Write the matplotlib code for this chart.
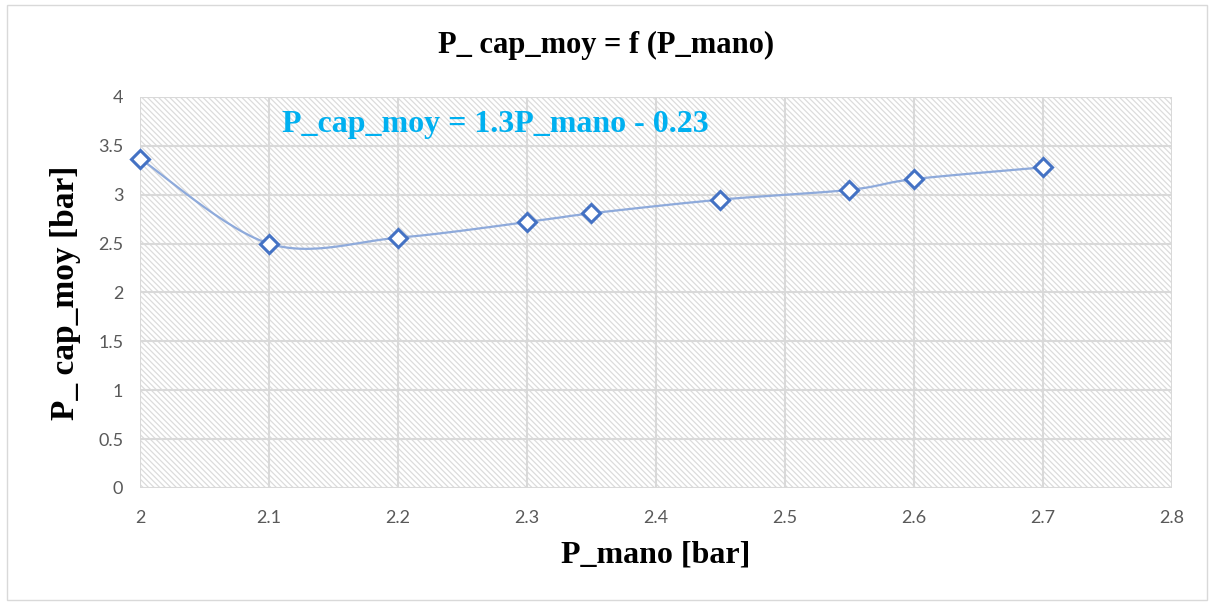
import numpy as np
import matplotlib.pyplot as plt
from matplotlib.patches import Rectangle

p_mano = [2.0, 2.1, 2.2, 2.3, 2.35, 2.45, 2.55, 2.6, 2.7]
p_cap_moy = [3.37, 2.50, 2.56, 2.72, 2.81, 2.95, 3.05, 3.16, 3.28]
x_ticks = [2, 2.1, 2.2, 2.3, 2.4, 2.5, 2.6, 2.7, 2.8]
y_ticks = [0, 0.5, 1, 1.5, 2, 2.5, 3, 3.5, 4]


def smooth(xs, ys, n=30):
    # Catmull-Rom style smoothing like Excel's smoothed line
    pts = np.column_stack([xs, ys])
    P = np.vstack([pts[0], pts, pts[-1]])
    out = []
    for i in range(1, len(P) - 2):
        p0, p1, p2, p3 = P[i - 1], P[i], P[i + 1], P[i + 2]
        t = np.linspace(0, 1, n)[:, None]
        c = 0.5 * ((2 * p1) + (-p0 + p2) * t + (2 * p0 - 5 * p1 + 4 * p2 - p3) * t ** 2
                   + (-p0 + 3 * p1 - 3 * p2 + p3) * t ** 3)
        out.append(c)
    c = np.vstack(out)
    return c[:, 0], c[:, 1]


plt.rcParams['hatch.color'] = '#dcdcdc'
plt.rcParams['hatch.linewidth'] = 0.9

fig = plt.figure(figsize=(12.13, 6.05), dpi=100)
fig.patches.append(Rectangle((0.006, 0.008), 0.989, 0.983, transform=fig.transFigure,
                             fill=False, edgecolor='#d9d9d9', lw=1))
ax = fig.add_axes([0.1154, 0.1934, 0.8508, 0.6463])
ax.add_patch(Rectangle((0, 0), 1, 1, transform=ax.transAxes, facecolor='white',
                       hatch='\\\\\\\\\\\\', edgecolor='#dcdcdc', lw=0, zorder=0))

sx, sy = smooth(p_mano, p_cap_moy)
ax.plot(sx, sy, color='#8eaadb', lw=1.6, zorder=3)
ax.plot(p_mano, p_cap_moy, linestyle='none', marker='D', markersize=9,
        markerfacecolor='white', markeredgecolor='#4472c4', markeredgewidth=2.2, zorder=4,
        clip_on=False)

ax.set_xlim(2, 2.8)
ax.set_ylim(0, 4)
ax.set_xticks(x_ticks)
ax.set_yticks(y_ticks)
ax.set_xticklabels([f'{v:g}' for v in x_ticks])
ax.set_yticklabels([f'{v:g}' for v in y_ticks])
ax.grid(True, color='#d9d9d9', lw=1.5, zorder=1)
ax.set_axisbelow(True)
for s in ax.spines.values():
    s.set_visible(False)
ax.tick_params(length=0, labelsize=13, colors='#595959')
ax.tick_params(axis='x', pad=16)
ax.tick_params(axis='y', pad=12)
for lab in ax.get_xticklabels() + ax.get_yticklabels():
    lab.set_family('Lato')

serif = {'family': 'Liberation Serif', 'weight': 'bold'}
fig.text(0.5, 0.925, 'P_ cap_moy = f (P_mano)', ha='center', va='center', fontsize=22, **serif)
ax.set_xlabel('P_mano [bar]', fontsize=23, labelpad=10, **serif)
ax.set_ylabel('P_ cap_moy [bar]', fontsize=24, labelpad=12, **serif)
ax.text(0.138, 0.93, 'P_cap_moy = 1.3P_mano - 0.23', transform=ax.transAxes, color='#00b0f0',
        fontsize=23, va='center', ha='left', **serif)

fig.savefig('out.png', dpi=100)
